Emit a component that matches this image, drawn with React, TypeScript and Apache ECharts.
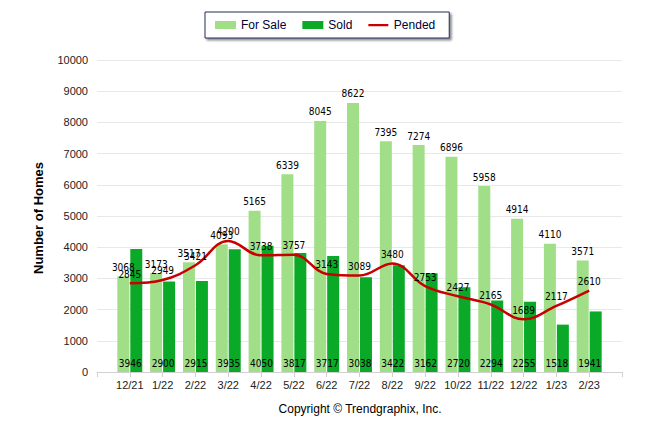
import React, { useEffect, useRef } from "react";
import * as echarts from "echarts";

const months = ["12/21", "1/22", "2/22", "3/22", "4/22", "5/22", "6/22", "7/22", "8/22", "9/22", "10/22", "11/22", "12/22", "1/23", "2/23"];
const forSale = [3068, 3173, 3517, 4093, 5165, 6339, 8045, 8622, 7395, 7274, 6896, 5958, 4914, 4110, 3571];
const sold = [3946, 2900, 2915, 3935, 4050, 3817, 3717, 3038, 3422, 3162, 2720, 2294, 2255, 1518, 1941];
const pended = [2845, 2949, 3421, 4200, 3738, 3757, 3143, 3089, 3480, 2753, 2427, 2165, 1689, 2117, 2610];
const yTicks = [0, 1000, 2000, 3000, 4000, 5000, 6000, 7000, 8000, 9000, 10000];

const pad = (arr: (number | string)[], v: any) => [v, ...arr, v];

export default function App() {
  const ref = useRef<HTMLDivElement>(null);
  useEffect(() => {
    const chart = echarts.init(ref.current!, null, { renderer: "svg" });
    const labelFont = {
      fontFamily: "'DejaVu Sans Condensed', 'Liberation Sans Narrow', 'Liberation Sans', Arial, sans-serif",
      fontSize: 10,
      color: "#000",
    };
    chart.setOption({
      animation: false,
      backgroundColor: "#fff",
      textStyle: { fontFamily: "'Liberation Sans', Arial, sans-serif" },
      grid: { left: 97, right: 24, top: 60, bottom: 62, containLabel: false },
      legend: {
        left: 205,
        top: 12,
        padding: [7, 14, 7, 10],
        itemWidth: 21,
        itemHeight: 8,
        itemGap: 16,
        borderColor: "#1f2d5a",
        borderWidth: 1,
        backgroundColor: "#fff",
        shadowColor: "rgba(0,0,0,0.45)",
        shadowBlur: 2,
        shadowOffsetX: 2,
        shadowOffsetY: 2,
        textStyle: { fontSize: 12, color: "#000033", fontFamily: "'Liberation Sans', Arial, sans-serif" },
        data: [
          { name: "For Sale", icon: "rect" },
          { name: "Sold", icon: "rect" },
          { name: "Pended", icon: "path://M0 0h20v0.01H0zM0 3h20v2.2H0zM0 8h20v0.01H0z" },
        ],
      },
      xAxis: {
        type: "category",
        boundaryGap: false,
        data: pad(months, ""),
        axisLine: { lineStyle: { color: "#d0d0d0" } },
        axisTick: { length: 5, lineStyle: { color: "#d0d0d0" } },
        axisLabel: { color: "#222", fontSize: 11, margin: 7, interval: 0 },
      },
      yAxis: {
        type: "value",
        min: yTicks[0],
        max: yTicks[yTicks.length - 1],
        interval: 1000,
        axisLine: { show: false },
        axisTick: { show: false },
        axisLabel: { color: "#222", fontSize: 11, margin: 9, formatter: (v: number) => String(v) },
        splitLine: { lineStyle: { color: "#e8e8e8" } },
      },
      series: [
        {
          name: "For Sale",
          type: "bar",
          data: pad(forSale, null),
          barWidth: 12,
          barGap: "8%",
          itemStyle: { color: "#a0df88" },
          label: { show: true, position: "top", distance: 4, ...labelFont },
        },
        {
          name: "Sold",
          type: "bar",
          data: pad(sold, null),
          barWidth: 12,
          barGap: "8%",
          itemStyle: { color: "#0aa928" },
          label: { show: true, position: "insideBottom", distance: 4, offset: [-6, 0], ...labelFont },
        },
        {
          name: "Pended",
          type: "line",
          data: pad(pended, null),
          smooth: 0.4,
          symbol: "circle",
          symbolSize: 0.1,
          showSymbol: true,
          connectNulls: false,
          lineStyle: { color: "#c80000", width: 2.5 },
          itemStyle: { color: "#c80000" },
          label: { show: true, position: "top", distance: 4, ...labelFont },
          labelLayout: { hideOverlap: false },
          z: 5,
        },
      ],
      graphic: [
        {
          type: "text",
          x: 38,
          y: 218,
          rotation: Math.PI / 2,
          style: {
            text: "Number of Homes",
            fontSize: 13,
            fontWeight: "bold",
            fill: "#000",
            align: "center",
            verticalAlign: "middle",
            fontFamily: "'Liberation Sans', Arial, sans-serif",
          },
        },
        {
          type: "text",
          x: 360,
          y: 409,
          style: {
            text: "Copyright \u00A9 Trendgraphix, Inc.",
            fontSize: 12,
            fill: "#000",
            align: "center",
            verticalAlign: "middle",
            fontFamily: "'Liberation Sans', Arial, sans-serif",
          },
        },
      ],
    });
    return () => chart.dispose();
  }, []);
  return <div ref={ref} style={{ width: 646, height: 434, margin: -8 }} />;
}
